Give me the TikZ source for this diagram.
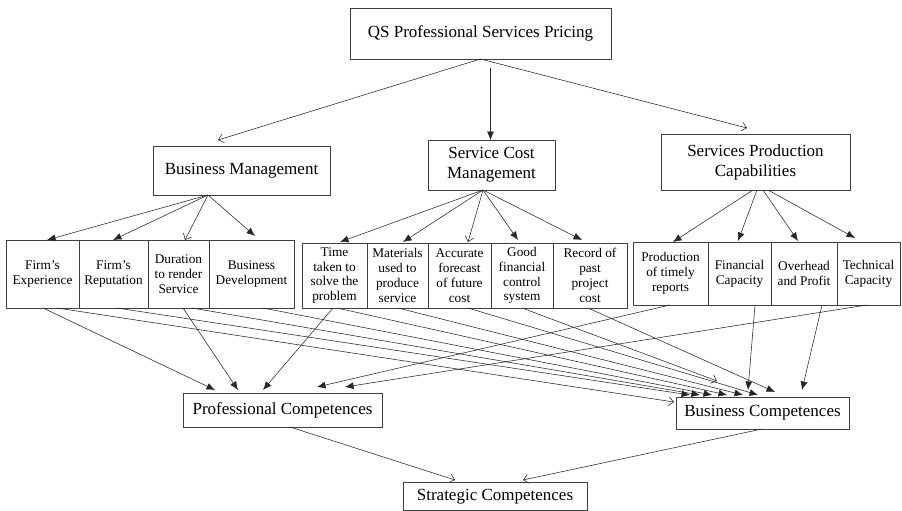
\documentclass[tikz,border=0pt]{standalone}
\usepackage{fontspec}
\setmainfont{Liberation Serif}
\usetikzlibrary{arrows.meta,calc}
\begin{document}
\begin{tikzpicture}[x=1pt,y=-1pt,
  box/.style={draw=black!75,line width=0.7pt,inner sep=0pt,outer sep=0pt,anchor=north west,align=center},
  big/.style={box,font=\fontsize{17}{20}\selectfont},
  small/.style={box,font=\fontsize{13.3}{14.8}\selectfont},
  fa/.style={draw=black!85,line width=0.55pt,-{Latex[length=8.5pt,width=7pt]}},
  oa/.style={draw=black!85,line width=0.55pt,-{Straight Barb[length=5pt,width=9pt]}}]
\useasboundingbox (0,0) rectangle (902,511);
% level 1
\node[big,minimum width=261,minimum height=51] (top) at (350,8) {QS Professional Services Pricing};
% level 2
\node[big,minimum width=177,minimum height=49] (bm) at (153,146) {Business Management};
\node[big,minimum width=127,minimum height=50] (scm) at (428,140) {Service Cost\\Management};
\node[big,minimum width=189,minimum height=56] (spc) at (661,134) {Services Production\\Capabilities};
% level 3
\node[small,minimum width=73,minimum height=68] (fe) at (6,240) {Firm’s\\Experience};
\node[small,minimum width=69,minimum height=68] (fr) at (79,240) {Firm’s\\Reputation};
\node[small,minimum width=61,minimum height=68] (du) at (148,240) {Duration\\to render\\Service};
\node[small,minimum width=85,minimum height=68] (bd) at (209,240) {Business\\Development};
\node[small,minimum width=65,minimum height=65] (tt) at (302,243) {Time\\taken to\\solve the\\problem};
\node[small,minimum width=61,minimum height=65] (mu) at (367,243) {Materials\\used to\\produce\\service};
\node[small,minimum width=63,minimum height=65] (af) at (428,243) {Accurate\\forecast\\of future\\cost};
\node[small,minimum width=62,minimum height=65] (gf) at (491,243) {Good\\financial\\control\\system};
\node[small,minimum width=74,minimum height=65] (rp) at (553,243) {Record of\\past\\project\\cost};
\node[small,minimum width=75,minimum height=63] (pr) at (633,242) {Production\\of timely\\reports};
\node[small,minimum width=63,minimum height=63] (fc) at (708,242) {Financial\\Capacity};
\node[small,minimum width=66,minimum height=63] (op) at (771,242) {Overhead\\and Profit};
\node[small,minimum width=63,minimum height=63] (tc) at (837,242) {Technical\\Capacity};
% level 4
\node[big,minimum width=199,minimum height=34] (pc) at (183,393) {Professional Competences};
\node[big,minimum width=173,minimum height=32] (bc) at (676,397) {Business Competences};
% level 5
\node[big,minimum width=184,minimum height=28.5] (sc) at (403,482) {Strategic Competences};

% top -> level 2
\draw[oa] (top.south) -- ($(bm.north west)+(65,-6)$);
\draw[fa] ($(top.south)+(10,9)$) -- ($(scm.north)+(-1,0)$);
\draw[oa] (top.south) -- ($(spc.north west)+(86,-6)$);

% BM -> items
\coordinate (bma) at ($(bm.south west)+(55,0)$);
\draw[fa] (bma) -- ($(fe.north west)+(41,0)$);
\draw[fa] (bma) -- ($(fr.north west)+(34,0)$);
\draw[oa] (bma) -- ($(du.north west)+(37,0)$);
\draw[fa] (bma) -- ($(bd.north west)+(46,-4)$);

% SCM -> items
\coordinate (sca) at ($(scm.south west)+(55,0)$);
\draw[fa] (sca) -- ($(tt.north west)+(38,-1)$);
\draw[fa] (sca) -- ($(mu.north west)+(36,-1)$);
\draw[oa] (sca) -- ($(af.north west)+(40,-1)$);
\draw[fa] (sca) -- ($(gf.north west)+(27,-3)$);
\draw[fa] (sca) -- ($(rp.north west)+(29,-3)$);

% SPC -> items
\draw[fa] ($(spc.south west)+(92,0)$) -- ($(pr.north west)+(40,0)$);
\draw[fa] ($(spc.south west)+(96,0)$) -- ($(fc.north west)+(30,-1)$);
\draw[fa] ($(spc.south west)+(102,0)$) -- ($(op.north west)+(27,-1)$);
\draw[fa] ($(spc.south west)+(107,0)$) -- ($(tc.north west)+(18,-4)$);

% items -> Professional Competences
\draw[fa] ($(fe.south west)+(37,0)$) -- ($(pc.north west)+(32,-3)$);
\draw[fa] ($(du.south west)+(35,0)$) -- ($(pc.north west)+(55,-3)$);
\draw[fa] ($(tt.south west)+(31,0)$) -- ($(pc.north west)+(80,-3)$);
\draw[fa] ($(pr.south west)+(37,0)$) -- ($(pc.north west)+(134,-6)$);
\draw[fa] ($(tc.south west)+(30,0)$) -- ($(pc.north west)+(162,-6)$);

% items -> Business Competences
\draw[oa] ($(fe.south west)+(51,0)$) -- ($(bc.north west)+(-2,5)$);
\draw[fa] ($(fr.south west)+(38,0)$) -- ($(bc.north west)+(14,-2)$);
\draw[fa] ($(du.south west)+(44,0)$) -- ($(bc.north west)+(24,-2)$);
\draw[fa] ($(bd.south west)+(54,0)$) -- ($(bc.north west)+(36,-2)$);
\draw[fa] ($(tt.south west)+(35,0)$) -- ($(bc.north west)+(51,-2)$);
\draw[fa] ($(mu.south west)+(31,0)$) -- ($(bc.north west)+(67,-2)$);
\draw[fa] ($(af.south west)+(40,0)$) -- ($(bc.north west)+(82,-2)$);
\draw[oa] ($(gf.south west)+(31,0)$) -- ($(bc.north west)+(41,-16)$);
\draw[fa] ($(rp.south west)+(35,0)$) -- ($(bc.north west)+(99,-5)$);
\draw[fa] ($(fc.south west)+(47,0)$) -- ($(bc.north west)+(72,-7)$);
\draw[fa] ($(op.south west)+(51,0)$) -- ($(bc.north west)+(126,-7)$);

% level 4 -> Strategic
\draw[oa] ($(pc.south west)+(107,0)$) -- ($(sc.north west)+(52,-2)$);
\draw[oa] ($(bc.south west)+(86,0)$) -- ($(sc.north west)+(120,-2)$);
\end{tikzpicture}
\end{document}
